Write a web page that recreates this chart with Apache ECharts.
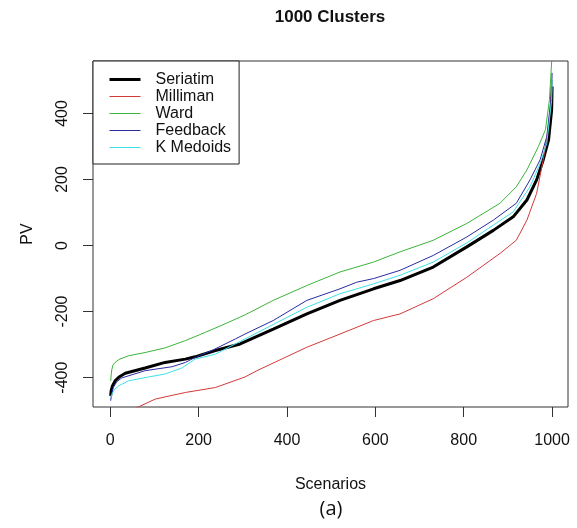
<!DOCTYPE html>
<html>
<head>
<meta charset="utf-8">
<script src="https://cdn.jsdelivr.net/npm/echarts@6/dist/echarts.min.js"></script>
<style>
  html, body { margin: 0; padding: 0; background: #fff; }
  #main { width: 577px; height: 528px; }
</style>
</head>
<body>
<div id="main"></div>
<script>
// values: [scenario, PV]
var seriatim = [[1,-455],[2,-440],[5,-425],[11,-410],[20,-398],[34,-387],[79,-371],[124,-354],[170,-344],[192,-337],[238,-318],[294,-298],[369,-253],[445,-207],[520,-166],[596,-131],[656,-106],[731,-65],[807,-4],[867,46],[912,87],[943,138],[965,199],[980,260],[992,320],[999,411],[1000,482]];
var milliman = [[1,-620],[20,-560],[40,-520],[57,-493],[102,-465],[170,-445],[238,-430],[305,-398],[332,-379],[445,-308],[520,-268],[596,-227],[656,-207],[731,-161],[807,-96],[882,-24],[919,16],[943,77],[965,158],[980,260],[992,361],[999,462],[1000,500]];
var ward = [[1,-410],[3,-380],[6,-362],[11,-354],[20,-345],[41,-334],[79,-324],[124,-310],[170,-288],[215,-263],[260,-237],[305,-210],[369,-166],[445,-121],[520,-80],[596,-50],[656,-19],[731,16],[807,67],[882,128],[919,178],[943,229],[969,300],[985,351],[994,442],[1000,580]];
var feedback = [[1,-470],[3,-450],[7,-430],[15,-412],[26,-401],[79,-379],[140,-367],[170,-354],[192,-339],[230,-318],[283,-283],[305,-268],[369,-227],[445,-166],[520,-131],[558,-111],[596,-100],[656,-75],[731,-30],[807,26],[867,77],[919,128],[950,199],[973,260],[988,330],[999,462],[1000,523]];
var kmedoids = [[1,-460],[4,-450],[10,-435],[19,-425],[41,-410],[79,-400],[124,-389],[162,-371],[192,-344],[238,-329],[283,-298],[305,-283],[369,-239],[445,-187],[520,-146],[596,-116],[656,-90],[731,-50],[807,8],[867,62],[912,102],[950,178],[973,249],[988,310],[999,440],[1000,500]];

var xTicks = [0, 200, 400, 600, 800, 1000];
var yTicks = [-400, -200, 0, 200, 400];

var seriesNames = ["Seriatim", "Milliman", "Ward", "Feedback", "K Medoids"];
var seriesColors = ["#000000", "#d23a3a", "#3cb43c", "#2a2aa0", "#3ee0e6"];
var seriesWidths = [3, 1, 1, 1, 1];
var seriesData = [seriatim, milliman, ward, feedback, kmedoids];

var font = "Liberation Sans, Arial, sans-serif";

var myChart = echarts.init(document.getElementById("main"), null, { renderer: "canvas" });

var series = [];
var legendData = [];
for (var i = 0; i < seriesNames.length; i++) {
  series.push({
    name: seriesNames[i],
    type: "line",
    data: seriesData[i],
    showSymbol: false,
    symbol: "none",
    clip: true,
    z: i == 0 ? 2 : 3,
    color: seriesColors[i],
    lineStyle: { color: seriesColors[i], width: seriesWidths[i] }
  });
  legendData.push({
    name: seriesNames[i],
    lineStyle: { width: seriesWidths[i] }
  });
}

var option = {
  animation: false,
  title: [
    {
      text: "1000 Clusters",
      left: 330,
      top: 9,
      padding: 0,
      textAlign: "center",
      textStyle: { fontFamily: font, fontSize: 17, fontWeight: "bold", color: "#111" }
    },
    {
      text: "(a)",
      left: 331,
      top: 499,
      padding: 0,
      textAlign: "center",
      textStyle: { fontFamily: "Open Sans, Noto Sans, sans-serif", fontSize: 20, fontWeight: "normal", color: "#111" }
    }
  ],
  legend: {
    orient: "vertical",
    left: 93,
    top: 61,
    width: 150,
    padding: [10, 8, 8, 15],
    itemGap: 0,
    itemWidth: 31,
    itemHeight: 17,
    backgroundColor: "#fff",
    borderColor: "#222",
    borderWidth: 1,
    borderRadius: 0,
    itemStyle: { opacity: 0 },
    textStyle: { fontFamily: font, fontSize: 16, color: "#111", lineHeight: 17, padding: [0, 0, 0, 10] },
    data: legendData,
    z: 10
  },
  grid: {
    left: 93,
    right: 9,
    top: 61,
    bottom: 121,
    show: true,
    borderColor: "#333",
    borderWidth: 1,
    backgroundColor: "transparent"
  },
  xAxis: {
    type: "value",
    min: -39,
    max: 1036,
    name: "Scenarios",
    nameLocation: "middle",
    nameGap: 70,
    nameTextStyle: { fontFamily: font, fontSize: 16, color: "#111" },
    axisLine: { show: false, onZero: false },
    splitLine: { show: false },
    axisTick: { show: true, length: 10, inside: false, customValues: xTicks, lineStyle: { color: "#333" } },
    axisLabel: {
      customValues: xTicks, margin: 26, fontFamily: font, fontSize: 16, color: "#111",
      formatter: function (v) { return String(v); }
    }
  },
  yAxis: {
    type: "value",
    min: -489,
    max: 559,
    name: "PV",
    nameLocation: "middle",
    nameGap: 57,
    nameRotate: 90,
    nameTextStyle: { fontFamily: font, fontSize: 16, color: "#111" },
    axisLine: { show: false, onZero: false },
    splitLine: { show: false },
    axisTick: { show: true, length: 10, inside: false, customValues: yTicks, lineStyle: { color: "#333" } },
    axisLabel: {
      customValues: yTicks, rotate: 90, margin: 22, fontFamily: font, fontSize: 16, color: "#111",
      formatter: function (v) { return String(v); }
    }
  },
  series: series
};
myChart.setOption(option);
</script>
</body>
</html>
